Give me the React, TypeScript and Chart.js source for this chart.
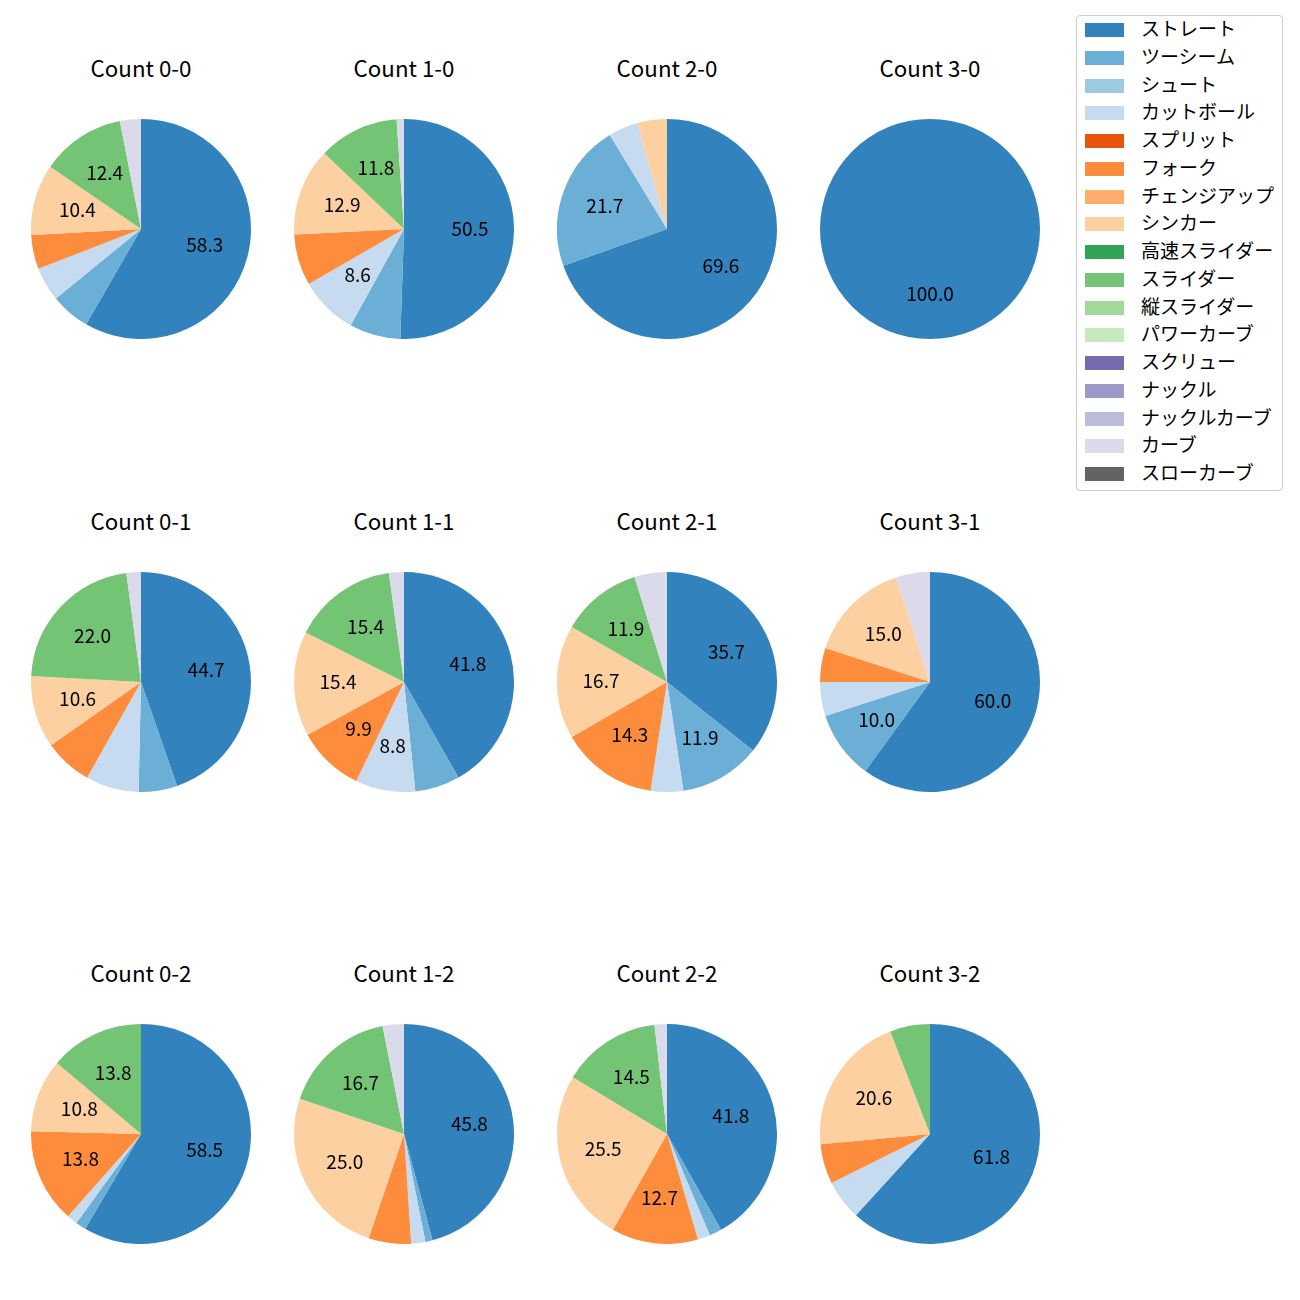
import React, { useEffect, useRef } from "react";
import { Chart, registerables } from "chart.js";

Chart.register(...registerables);

const PITCH_TYPES = [
  "ストレート", "ツーシーム", "シュート", "カットボール", "スプリット", "フォーク",
  "チェンジアップ", "シンカー", "高速スライダー", "スライダー", "縦スライダー",
  "パワーカーブ", "スクリュー", "ナックル", "ナックルカーブ", "カーブ", "スローカーブ",
];

const COLORS = [
  "#3182bd", "#6baed6", "#9ecae1", "#c6dbef", "#e6550d", "#fd8d3c",
  "#fdae6b", "#fdd0a2", "#31a354", "#74c476", "#a1d99b", "#c7e9c0",
  "#756bb1", "#9e9ac8", "#bcbddc", "#dadaeb", "#636363",
];

// counts per pitch type, same order as PITCH_TYPES
const COUNT_0_0 = [151, 15, 0, 13, 0, 13, 0, 27, 0, 32, 0, 0, 0, 0, 0, 8, 0];
const COUNT_1_0 = [47, 7, 0, 8, 0, 7, 0, 12, 0, 11, 0, 0, 0, 0, 0, 1, 0];
const COUNT_2_0 = [16, 5, 0, 1, 0, 0, 0, 1, 0, 0, 0, 0, 0, 0, 0, 0, 0];
const COUNT_3_0 = [5, 0, 0, 0, 0, 0, 0, 0, 0, 0, 0, 0, 0, 0, 0, 0, 0];
const COUNT_0_1 = [63, 8, 0, 11, 0, 10, 0, 15, 0, 31, 0, 0, 0, 0, 0, 3, 0];
const COUNT_1_1 = [38, 6, 0, 8, 0, 9, 0, 14, 0, 14, 0, 0, 0, 0, 0, 2, 0];
const COUNT_2_1 = [15, 5, 0, 2, 0, 6, 0, 7, 0, 5, 0, 0, 0, 0, 0, 2, 0];
const COUNT_3_1 = [12, 2, 0, 1, 0, 1, 0, 3, 0, 0, 0, 0, 0, 0, 0, 1, 0];
const COUNT_0_2 = [38, 1, 0, 1, 0, 9, 0, 7, 0, 9, 0, 0, 0, 0, 0, 0, 0];
const COUNT_1_2 = [44, 1, 0, 2, 0, 6, 0, 24, 0, 16, 0, 0, 0, 0, 0, 3, 0];
const COUNT_2_2 = [23, 1, 0, 1, 0, 7, 0, 14, 0, 8, 0, 0, 0, 0, 0, 1, 0];
const COUNT_3_2 = [21, 0, 0, 2, 0, 2, 0, 7, 0, 2, 0, 0, 0, 0, 0, 0, 0];

const TITLES = [
  "Count 0-0", "Count 1-0", "Count 2-0", "Count 3-0",
  "Count 0-1", "Count 1-1", "Count 2-1", "Count 3-1",
  "Count 0-2", "Count 1-2", "Count 2-2", "Count 3-2",
];
const SERIES = [
  COUNT_0_0, COUNT_1_0, COUNT_2_0, COUNT_3_0,
  COUNT_0_1, COUNT_1_1, COUNT_2_1, COUNT_3_1,
  COUNT_0_2, COUNT_1_2, COUNT_2_2, COUNT_3_2,
];

const COL_X = [141, 404, 667, 930];
const ROW_Y = [229, 682, 1134];
const R = 110;
const FONT = '"Noto Sans CJK JP", "Noto Sans", sans-serif';
const LABEL_PX = 19;
const TITLE_PX = 22.3;
const MIN_PCT = 8;

const pctLabelPlugin = {
  id: "pctLabels",
  afterDatasetsDraw(chart: any) {
    const ctx = chart.ctx;
    const meta = chart.getDatasetMeta(0);
    const data = chart.data.datasets[0].data as number[];
    const total = data.reduce((a, b) => a + b, 0);
    ctx.save();
    ctx.font = `${LABEL_PX}px ${FONT}`;
    ctx.fillStyle = "#000";
    ctx.textAlign = "center";
    ctx.textBaseline = "middle";
    meta.data.forEach((arc: any, i: number) => {
      const v = data[i];
      if (!v) return;
      const pct = (v / total) * 100;
      if (pct < MIN_PCT) return;
      const p = arc.getProps(["startAngle", "endAngle", "outerRadius", "x", "y"], true);
      const mid = (p.startAngle + p.endAngle) / 2;
      const d = p.outerRadius * 0.6;
      ctx.fillText(pct.toFixed(1), p.x + Math.cos(mid) * d, p.y + Math.sin(mid) * d - 1.5);
    });
    ctx.restore();
  },
};

function Pie({ data }: { data: number[] }) {
  const ref = useRef<HTMLCanvasElement | null>(null);
  useEffect(() => {
    if (!ref.current) return;
    const chart = new Chart(ref.current, {
      type: "pie",
      data: {
        labels: PITCH_TYPES,
        datasets: [
          {
            data,
            backgroundColor: COLORS,
            borderWidth: 0,
            hoverBorderWidth: 0,
            hoverOffset: 0,
          } as any,
        ],
      },
      options: {
        responsive: false,
        animation: false,
        events: [],
        layout: { padding: 0 },
        plugins: { legend: { display: false }, tooltip: { enabled: false } },
      },
      plugins: [pctLabelPlugin],
    });
    return () => chart.destroy();
  }, [data]);
  return <canvas ref={ref} width={2 * R} height={2 * R} style={{ width: 2 * R, height: 2 * R, display: "block" }} />;
}

export default function App() {
  return (
    <div style={{ position: "absolute", left: 0, top: 0, width: 1300, height: 1300, background: "#fff", fontFamily: FONT }}>
      {SERIES.map((s, i) => {
        const cx = COL_X[i % 4];
        const cy = ROW_Y[Math.floor(i / 4)];
        return (
          <React.Fragment key={i}>
            <div style={{ position: "absolute", left: cx - R, top: cy - R }}>
              <Pie data={s} />
            </div>
            <div
              style={{
                position: "absolute",
                left: cx - 130,
                width: 260,
                top: cy - 162 - 20,
                height: 40,
                lineHeight: "40px",
                textAlign: "center",
                fontSize: TITLE_PX,
                color: "#000",
                whiteSpace: "nowrap",
              }}
            >
              {TITLES[i]}
            </div>
          </React.Fragment>
        );
      })}
      <div
        style={{
          position: "absolute",
          left: 1076,
          top: 15,
          width: 205,
          height: 474,
          border: "1px solid #cccccc",
          borderRadius: 4,
          background: "#fff",
        }}
      >
        {PITCH_TYPES.map((name, i) => {
          const cyRow = 14 + i * 27.75;
          return (
            <div key={name} style={{ position: "absolute", left: 0, top: cyRow - 14, height: 28, width: 205 }}>
              <div style={{ position: "absolute", left: 8, top: 7, width: 39, height: 14, background: COLORS[i] }} />
              <div
                style={{
                  position: "absolute",
                  left: 64,
                  top: -2,
                  height: 28,
                  lineHeight: "28px",
                  fontSize: LABEL_PX,
                  color: "#000",
                  whiteSpace: "nowrap",
                }}
              >
                {name}
              </div>
            </div>
          );
        })}
      </div>
    </div>
  );
}
